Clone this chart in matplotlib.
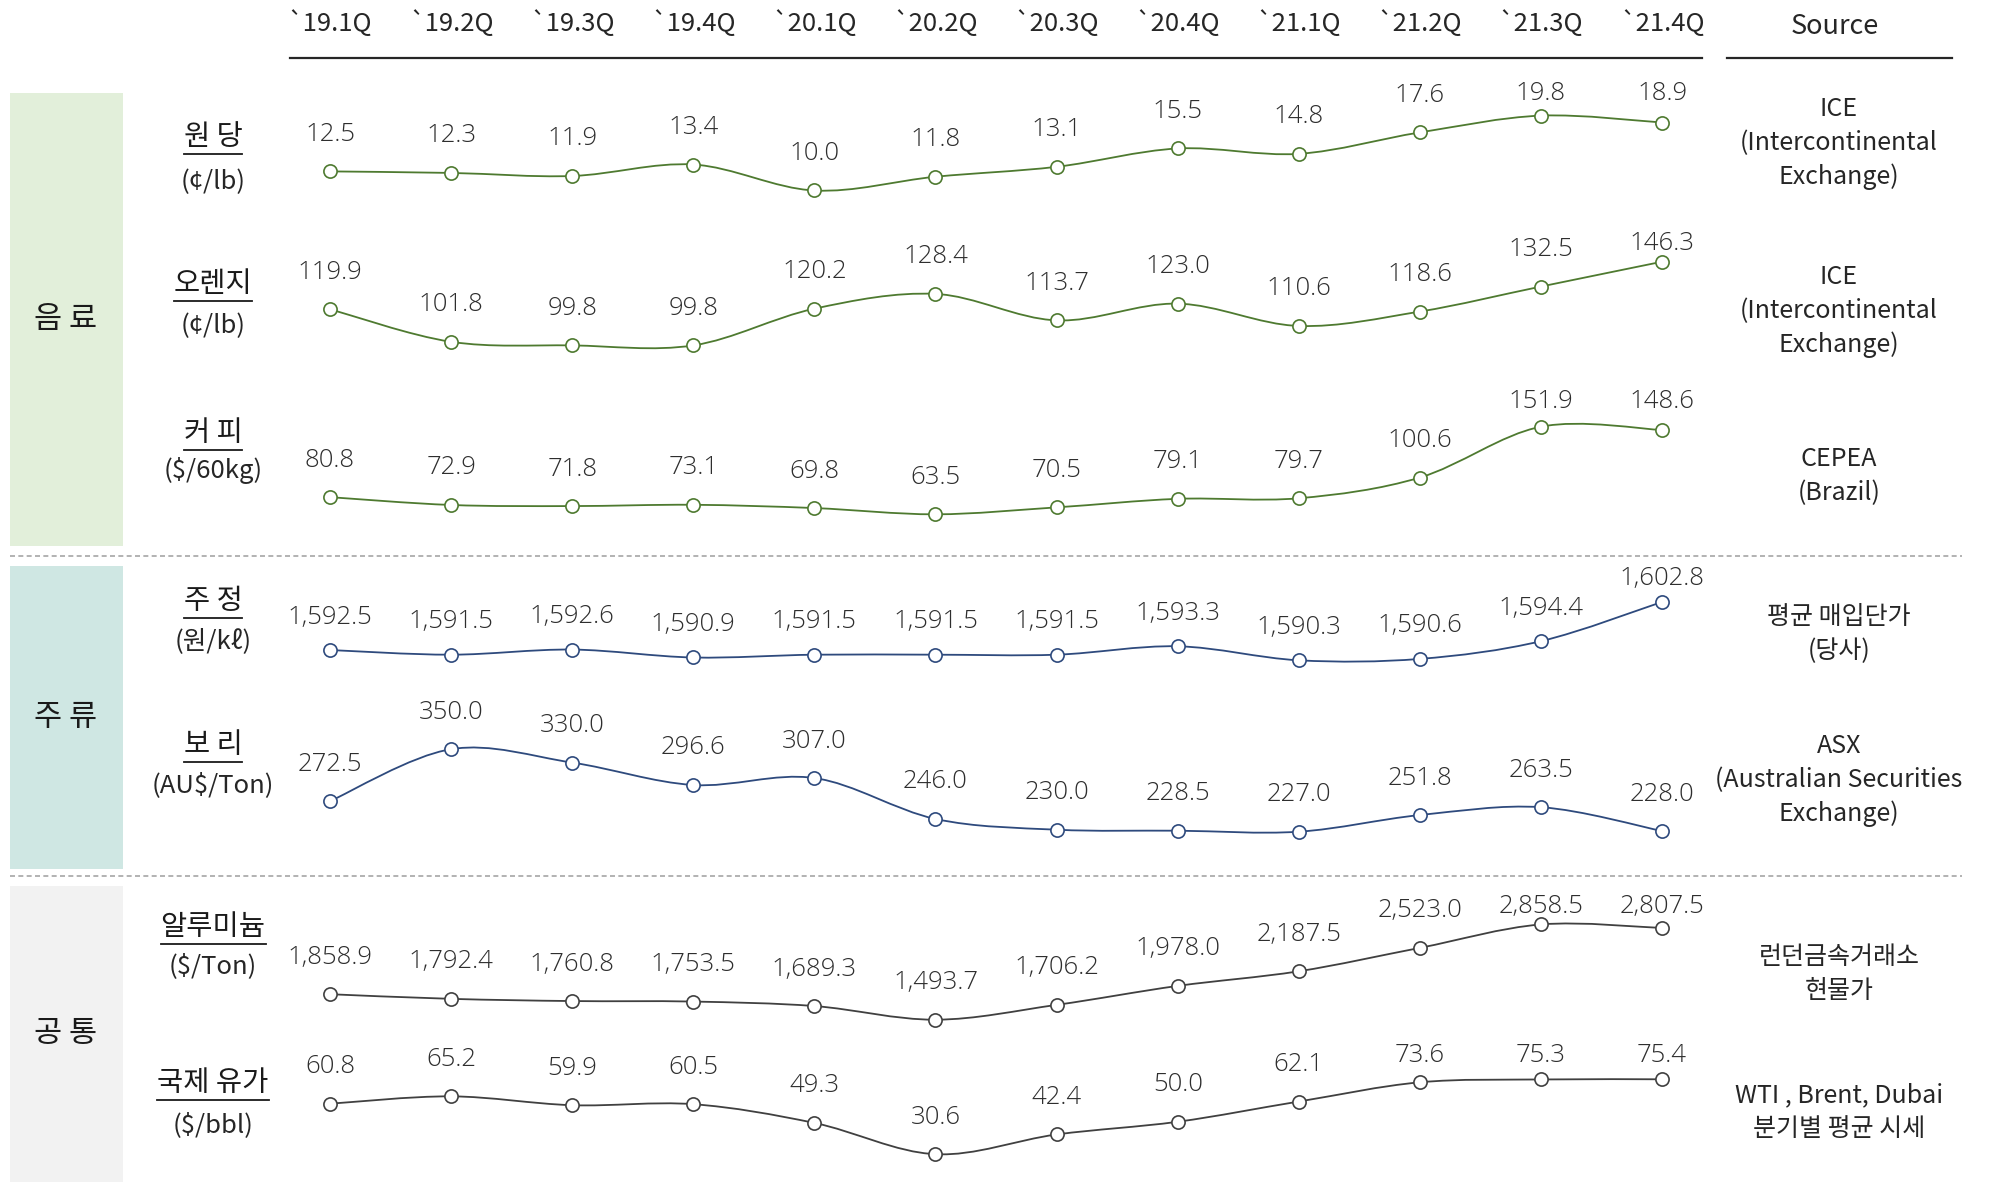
import matplotlib
matplotlib.use("Agg")
import matplotlib.pyplot as plt
from matplotlib.path import Path
from matplotlib.patches import PathPatch, Rectangle
from matplotlib import font_manager as fm
import numpy as np

plt.rcParams['font.family'] = ['Noto Sans CJK KR', 'DejaVu Sans']

# ---------------- data ----------------
quarters = ["`19.1Q", "`19.2Q", "`19.3Q", "`19.4Q", "`20.1Q", "`20.2Q",
            "`20.3Q", "`20.4Q", "`21.1Q", "`21.2Q", "`21.3Q", "`21.4Q"]
categories = ["음 료", "주 류", "공 통"]
items = ["원 당", "오렌지", "커 피", "주 정", "보 리", "알루미늄", "국제 유가"]
units = ["(¢/lb)", "(¢/lb)", "($/60kg)", "(원/kℓ)", "(AU$/Ton)", "($/Ton)", "($/bbl)"]
sources = ["ICE\n(Intercontinental\nExchange)",
           "ICE\n(Intercontinental\nExchange)",
           "CEPEA\n(Brazil)",
           "평균 매입단가\n(당사)",
           "ASX\n(Australian Securities\nExchange)",
           "런던금속거래소\n현물가",
           "WTI , Brent, Dubai\n분기별 평균 시세"]

sugar = [12.5, 12.3, 11.9, 13.4, 10.0, 11.8, 13.1, 15.5, 14.8, 17.6, 19.8, 18.9]
orange = [119.9, 101.8, 99.8, 99.8, 120.2, 128.4, 113.7, 123.0, 110.6, 118.6, 132.5, 146.3]
coffee = [80.8, 72.9, 71.8, 73.1, 69.8, 63.5, 70.5, 79.1, 79.7, 100.6, 151.9, 148.6]
spirit = [1592.5, 1591.5, 1592.6, 1590.9, 1591.5, 1591.5, 1591.5, 1593.3, 1590.3, 1590.6, 1594.4, 1602.8]
barley = [272.5, 350.0, 330.0, 296.6, 307.0, 246.0, 230.0, 228.5, 227.0, 251.8, 263.5, 228.0]
aluminum = [1858.9, 1792.4, 1760.8, 1753.5, 1689.3, 1493.7, 1706.2, 1978.0, 2187.5, 2523.0, 2858.5, 2807.5]
oil = [60.8, 65.2, 59.9, 60.5, 49.3, 30.6, 42.4, 50.0, 62.1, 73.6, 75.3, 75.4]
series = [sugar, orange, coffee, spirit, barley, aluminum, oil]

# ---------------- layout (pixels) ----------------
W, H = 1991, 1182
X0, DX = 330.0, 121.1          # pixel x of first quarter, spacing
GREEN, NAVY, GRAY = "#4E7A30", "#2E4A7D", "#404040"
# (ref value, ref pixel y, px per unit, label offset px, clamp px, color)
row_layout = [
    (10.0, 190.5, 7.64, 37, 93, GREEN),
    (99.8, 345.4, 1.80, 37, 244, GREEN),
    (63.5, 514.3, 0.991, 37, 402, GREEN),
    (1590.3, 660.3, 4.67, 33, 578, NAVY),
    (227.0, 831.7, 0.671, 37, 712, NAVY),
    (1493.7, 1019.7, 0.0698, 37, 907, GRAY),
    (30.6, 1154.2, 1.672, 37, 1055, GRAY),
]
item_y = [(137, 182), (284, 326), (433, 471), (601, 641), (745, 785), (927, 966), (1083, 1125)]
source_y = [143, 311, 476, 634, 780, 974, 1112]
bands = [(93, 546, "#E2EFDA"), (566, 869, "#CFE7E3"), (886, 1182, "#F2F2F2")]
dash_y = [556, 876]


def light_font():
    for fam in ["Roboto", "Lato", "Open Sans", "Inter"]:
        try:
            p = fm.findfont(fm.FontProperties(family=fam, weight='light'),
                            fallback_to_default=False)
            if 'light' in p.lower():
                return fm.FontProperties(fname=p)
        except Exception:
            pass
    return None


LF = light_font()

fig = plt.figure(figsize=(W / 100, H / 100), dpi=100)
bg = fig.add_axes([0, 0, 1, 1])
bg.set_xlim(0, W)
bg.set_ylim(H, 0)
bg.axis('off')

# category bands
for (y0, y1, c), name in zip(bands, categories):
    bg.add_patch(Rectangle((10, y0), 113, y1 - y0, color=c, lw=0, zorder=0))
    bg.text(66, (y0 + y1) / 2, name, ha='center', va='center', fontsize=22, color='#1a1a1a')

for y in dash_y:
    bg.plot([10, 1962], [y, y], ls=(0, (3, 2)), color='#A6A6A6', lw=1.2)

# header
for i, q in enumerate(quarters):
    bg.text(X0 + i * DX, 24, q, ha='center', va='center', fontsize=18.5, color='#262626')
bg.plot([290, 1702], [58, 58], color='#262626', lw=1.6)
bg.text(1835, 27, "Source", ha='center', va='center', fontsize=19.5, color='#262626')
bg.plot([1727, 1952], [58, 58], color='#262626', lw=1.6)

# item labels + underline
name_texts = []
for name, unit, (yn, yu) in zip(items, units, item_y):
    t = bg.text(213, yn, name, ha='center', va='center', fontsize=20.5, color='#1a1a1a')
    bg.text(213, yu, unit, ha='center', va='center', fontsize=18.5, color='#262626')
    name_texts.append((t, yn))

# sources
for s, y in zip(sources, source_y):
    bg.text(1839, y, s, ha='center', va='center', fontsize=18, color='#262626',
            linespacing=1.36)


def smooth_path(x, y, t=1.0 / 6.0):
    x = np.asarray(x, float)
    y = np.asarray(y, float)
    n = len(x)
    verts = [(x[0], y[0])]
    codes = [Path.MOVETO]
    for i in range(n - 1):
        p0 = (x[max(i - 1, 0)], y[max(i - 1, 0)])
        p1 = (x[i], y[i])
        p2 = (x[i + 1], y[i + 1])
        p3 = (x[min(i + 2, n - 1)], y[min(i + 2, n - 1)])
        c1 = (p1[0] + (p2[0] - p0[0]) * t, p1[1] + (p2[1] - p0[1]) * t)
        c2 = (p2[0] - (p3[0] - p1[0]) * t, p2[1] - (p3[1] - p1[1]) * t)
        verts += [c1, c2, p2]
        codes += [Path.CURVE4] * 3
    return Path(verts, codes)


xs = np.arange(len(quarters))
for vals, (v0, p0, s, off, clamp, col) in zip(series, row_layout):
    ax = fig.add_axes([0, 0, 1, 1])
    ax.patch.set_alpha(0)
    ax.axis('off')
    ax.set_xlim((0 - X0) / DX, (W - X0) / DX)
    ax.set_ylim(v0 - (H - p0) / s, v0 + p0 / s)
    ax.add_patch(PathPatch(smooth_path(xs, vals), fill=False, edgecolor=col, lw=1.3, zorder=2))
    ax.plot(xs, vals, 'o', ms=9.5, mfc='white', mec=col, mew=1.2, zorder=3, ls='none')
    for x, v in zip(xs, vals):
        py = p0 - (v - v0) * s
        ly = max(py - off, clamp)
        lv = v0 + (p0 - ly) / s
        if LF is not None:
            ax.text(x, lv, f"{v:,.1f}", ha='center', va='center', fontproperties=LF,
                    fontsize=18.5, color='#2e2e2e')
        else:
            ax.text(x, lv, f"{v:,.1f}", ha='center', va='center', fontsize=18,
                    color='#4a4a4a')

# underline item names
fig.canvas.draw()
renderer = fig.canvas.get_renderer()
inv = bg.transData.inverted()
for t, yn in name_texts:
    bb = t.get_window_extent(renderer)
    (xa, ya), (xb, yb) = inv.transform([(bb.x0, bb.y0), (bb.x1, bb.y1)])
    bg.plot([xa, xb], [yn + 17, yn + 17], color='#1a1a1a', lw=1.3)

fig.savefig("out.png", dpi=100)
